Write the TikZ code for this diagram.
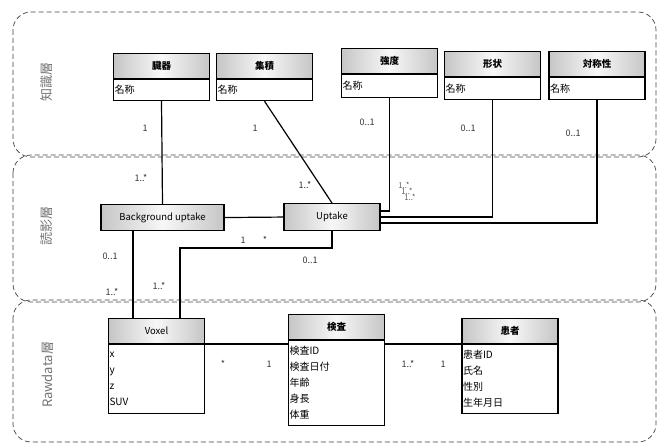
\documentclass[tikz,border=0pt]{standalone}
\usepackage{fontspec}
\setmainfont{Noto Sans CJK JP}
\usetikzlibrary{positioning}

\tikzset{
  schicht/.style={draw=black!75, dash pattern=on 5pt off 3pt, line width=0.7pt, rounded corners=18pt},
  schichtname/.style={rotate=90, text=black!55, font=\fontsize{13}{13}\selectfont},
  kopf/.style={draw, line width=1.1pt, minimum width=96pt, minimum height=25pt, inner sep=0pt, anchor=north,
    left color=gray!45, right color=gray!45, middle color=gray!6, font=\fontsize{9.5}{10}\selectfont\bfseries},
  feld/.style={draw, line width=1.1pt, fill=white, anchor=north, text width=94pt, align=left, inner sep=1pt,
    font=\fontsize{10}{16}\selectfont},
  mult/.style={text=black!80, inner sep=0pt, font=\fontsize{9}{9}\selectfont},
  multklein/.style={mult, text=black!60, font=\fontsize{8}{8}\selectfont},
}

\begin{document}
\begin{tikzpicture}[x=1pt, y=-1pt, line width=1.2pt]
\useasboundingbox (0,0) rectangle (669,443);

% drei Schichten
\draw[schicht] (13,12) rectangle (656,157);
\draw[schicht] (13,155) rectangle (656,302);
\draw[schicht] (13,300) rectangle (656,442);
\node[schichtname] (s1) at (47,82) {知識層};
\node[schichtname] (s2) at (47,226) {読影層};
\node[schichtname] (s3) at (48,375) {Rawdata層};

% Klassen im Wissensschicht
\node[kopf] (zouki) at (161.5,53) {臓器};
\node[feld, minimum height=21pt] (zouki-a) at (zouki.south) {名称};
\node[kopf] (shuseki) at (264.5,53) {集積};
\node[feld, minimum height=21pt] (shuseki-a) at (shuseki.south) {名称};
\node[kopf] (kyodo) at (389.5,48) {強度};
\node[feld, minimum height=23pt] (kyodo-a) at (kyodo.south) {名称};
\node[kopf] (keijo) at (492.5,51) {形状};
\node[feld, minimum height=22pt] (keijo-a) at (keijo.south) {名称};
\node[kopf] (taisho) at (597,51) {対称性};
\node[feld, minimum height=22pt] (taisho-a) at (taisho.south) {名称};

% Befundschicht
\node[kopf, minimum width=123pt, minimum height=26pt] (bg) at (162.5,204) {\mdseries Background uptake};
\node[kopf, minimum height=27pt] (uptake) at (332,203) {\mdseries Uptake};

% Rohdaten
\node[kopf] (voxel) at (156.5,318) {\mdseries Voxel};
\node[feld, minimum height=69pt] (voxel-a) at (voxel.south) {x\\y\\z\\SUV};
\node[kopf] (kensa) at (336.5,314) {検査};
\node[feld, minimum height=85pt] (kensa-a) at (kensa.south) {検査ID\\検査日付\\年齢\\身長\\体重};
\node[kopf] (kanja) at (510,318) {患者};
\node[feld, minimum height=69pt] (kanja-a) at (kanja.south) {患者ID\\氏名\\性別\\生年月日};

% Verbindungen
\draw (zouki-a.south) -- (bg.north);
\draw (shuseki-a.south) -- (uptake.north);
\draw (kyodo-a.south) |- ([yshift=6pt]uptake.east);
\draw (keijo-a.south) |- (uptake.east);
\draw (taisho-a.south) |- ([yshift=-6pt]uptake.east);
\draw (bg.east) -- (uptake.west);
\draw ([xshift=-29.5pt]bg.south) -- ([xshift=-29.5pt]bg.south |- voxel.north);
\coordinate (knick) at (180,248);
\draw (uptake.south) |- (knick) -- (knick |- voxel.north);
\draw (voxel.south east) -- (voxel.south east -| kensa.west);
\draw (kanja.south west) -- (kanja.south west -| kensa.east);

% Multiplizitaeten
\node[mult] (m1) at (145,128) {1};
\node[mult] (m2) at (255,128) {1};
\node[mult] (m3) at (367,122) {0..1};
\node[mult] (m4) at (468,128) {0..1};
\node[mult] (m5) at (573,133) {0..1};
\node[mult] (m6) at (141,178) {1..*};
\node[mult] (m7) at (305,185) {1..*};
\node[multklein] (m8) at (404,185) {1..*};
\node[multklein] (m9) at (407,191) {1..*};
\node[multklein] (m10) at (410,197) {1..*};
\node[mult] (m11) at (243,240) {1};
\node[mult] (m12) at (265,240) {*};
\node[mult] (m13) at (310,260) {0..1};
\node[mult] (m14) at (110,256) {0..1};
\node[mult] (m15) at (112,292) {1..*};
\node[mult] (m16) at (159,286) {1..*};
\node[mult] (m17) at (223,364) {*};
\node[mult] (m18) at (269,364) {1};
\node[mult] (m19) at (408,364) {1..*};
\node[mult] (m20) at (443,364) {1};

\end{tikzpicture}
\end{document}
